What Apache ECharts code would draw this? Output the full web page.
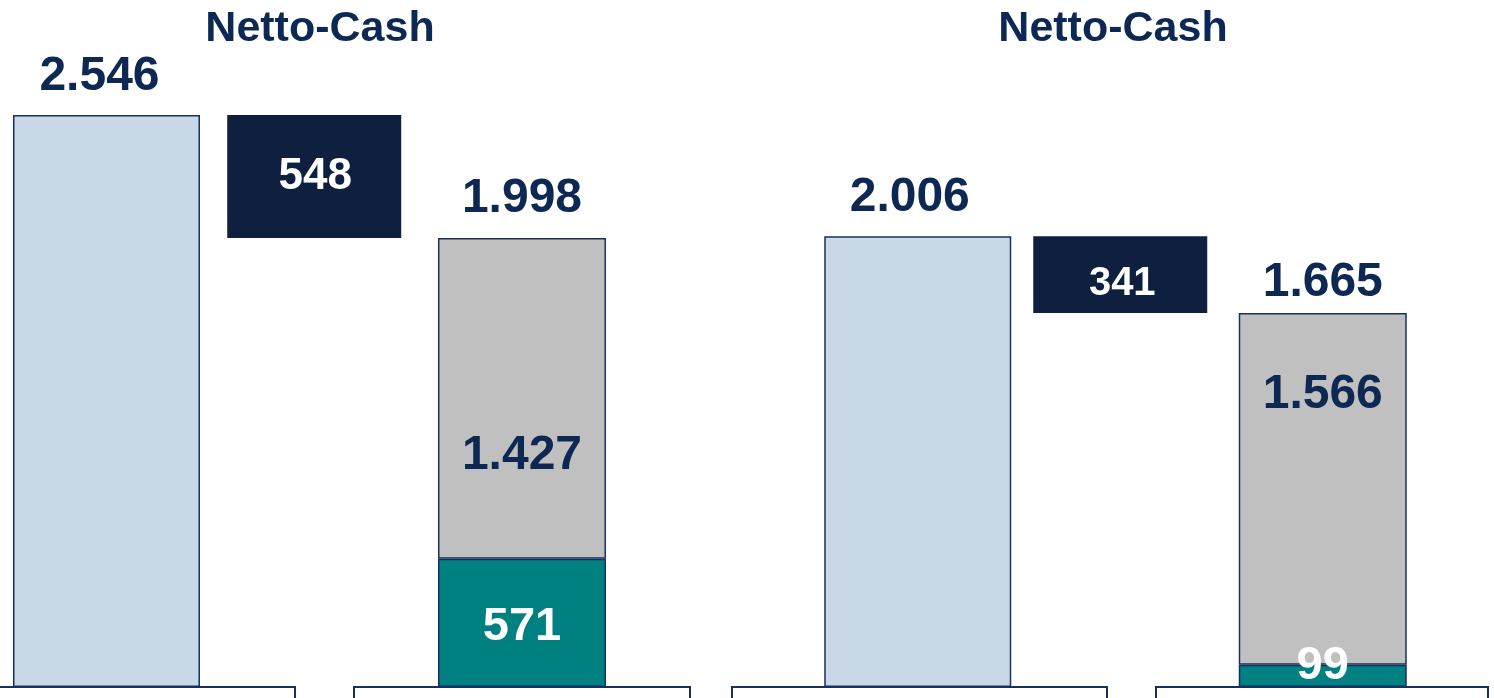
<!DOCTYPE html>
<html>
<head>
<meta charset="utf-8">
<script src="https://cdn.jsdelivr.net/npm/echarts@6/dist/echarts.min.js"></script>
<style>
html,body{margin:0;padding:0;background:#fff;}
#c{width:1494px;height:698px;}
</style>
</head>
<body>
<div id="c"></div>
<script>
// ---- data ----
const categories = ['Anfang', 'Veränderung', 'Ende'];
const panelTitles = ['Netto-Cash', 'Netto-Cash'];
const startValues = [2546, 2006];      // light blue start bars
const changeValues = [548, 341];       // navy decrease bars
const tealValues = [571, 99];          // teal part of end bar
const grayValues = [1427, 1566];       // gray part of end bar
const endTotals = [1998, 1665];        // end bar totals

// ---- style ----
const NAVY_TEXT = '#0D2852';
const NAVY_BAR = '#0E1F40';
const LIGHT = '#C8D8E6';
const GRAY = '#C0C0C0';
const TEAL = '#008080';
const BORDER = '#17305C';
const FONT = '"Liberation Sans", Arial, sans-serif';

function fmt(v) { return String(v).replace(/\B(?=(\d{3})+(?!\d))/g, '.'); }

const grids = [
  { left: 2.6, width: 623.25, top: 13, bottom: 11 },
  { left: 816.5, width: 607.5, top: 13, bottom: 11 }
];
const widths = [187, 174, 168];
const startLabelOffset = [[-7, 0], [-8, 0]];
const startLabelDist = [14, 15];
const endLabelDist = [15, 6];
const grayLabelY = [218, 82];
const tealLabelPos = [['50%', 68], ['50%', 1]];
const navyLabelOffset = [[1, 0], [2, 9]];
const navyFont = [44, 40];

const xAxes = [], yAxes = [], series = [];
grids.forEach((g, p) => {
  yAxes.push({ type: 'value', gridIndex: p, min: 0, max: 3000, show: false });
  for (let k = 0; k < 3; k++) {
    xAxes.push({ type: 'category', gridIndex: p, data: categories, show: false });
  }
  const xi = p * 3;
  const labelBase = { fontFamily: FONT, fontWeight: 'bold', fontSize: 48, color: NAVY_TEXT };
  // start bar
  series.push({
    type: 'bar', xAxisIndex: xi, yAxisIndex: p, barWidth: widths[0],
    data: [startValues[p], '-', '-'],
    itemStyle: { color: LIGHT, borderColor: BORDER, borderWidth: 1.5 },
    label: Object.assign({ show: true, position: 'top', distance: startLabelDist[p], offset: startLabelOffset[p],
      formatter: o => fmt(o.value) }, labelBase)
  });
  // helper (invisible) + navy change
  const helper = startValues[p] - changeValues[p];
  series.push({
    type: 'bar', xAxisIndex: xi + 1, yAxisIndex: p, barWidth: widths[1], stack: 'chg' + p,
    data: ['-', helper, '-'], itemStyle: { color: 'rgba(0,0,0,0)' }, silent: true
  });
  series.push({
    type: 'bar', xAxisIndex: xi + 1, yAxisIndex: p, barWidth: widths[1], stack: 'chg' + p,
    data: ['-', changeValues[p], '-'],
    itemStyle: { color: NAVY_BAR },
    label: { show: true, position: 'inside', offset: navyLabelOffset[p], fontFamily: FONT, fontWeight: 'bold',
      fontSize: navyFont[p], color: '#ffffff', formatter: o => fmt(o.value) }
  });
  // end bar: teal + gray + total label
  series.push({
    type: 'bar', xAxisIndex: xi + 2, yAxisIndex: p, barWidth: widths[2], stack: 'end' + p, z: 4,
    data: ['-', '-', tealValues[p]],
    itemStyle: { color: TEAL, borderColor: BORDER, borderWidth: 1.5 },
    label: { show: true, position: tealLabelPos[p], align: 'center', verticalAlign: 'middle',
      fontFamily: FONT, fontWeight: 'bold', fontSize: 47, color: '#ffffff', formatter: o => fmt(o.value) }
  });
  series.push({
    type: 'bar', xAxisIndex: xi + 2, yAxisIndex: p, barWidth: widths[2], stack: 'end' + p, z: 2,
    data: ['-', '-', grayValues[p]],
    itemStyle: { color: GRAY, borderColor: BORDER, borderWidth: 1.5 },
    label: Object.assign({ show: true, position: ['50%', grayLabelY[p]], align: 'center', verticalAlign: 'middle',
      formatter: o => fmt(o.value) }, labelBase)
  });
  series.push({
    type: 'bar', xAxisIndex: xi + 2, yAxisIndex: p, barWidth: widths[2], stack: 'end' + p, z: 2,
    data: ['-', '-', 0], itemStyle: { color: 'rgba(0,0,0,0)' },
    label: Object.assign({ show: true, position: 'top', distance: endLabelDist[p], formatter: () => fmt(endTotals[p]) }, labelBase)
  });
});

const titleX = [320, 1113];
const graphic = panelTitles.map((t, i) => ({
  type: 'text', x: titleX[i], y: 29, z: 10,
  style: { text: t, fill: NAVY_TEXT, font: 'bold 43px ' + FONT, textAlign: 'center', textVerticalAlign: 'middle' }
}));
// category boxes at the bottom (cut off by the frame)
const boxes = [[-10, 305], [354, 336], [732, 375], [1156, 332]];
boxes.forEach(b => graphic.push({
  type: 'rect', z: 10, shape: { x: b[0], y: 687, width: b[1], height: 60 },
  style: { fill: 'none', stroke: BORDER, lineWidth: 2 }
}));

const chart = echarts.init(document.getElementById('c'));
chart.setOption({
  animation: false,
  backgroundColor: '#ffffff',
  grid: grids,
  xAxis: xAxes,
  yAxis: yAxes,
  series: series,
  graphic: graphic
});
</script>
</body>
</html>
